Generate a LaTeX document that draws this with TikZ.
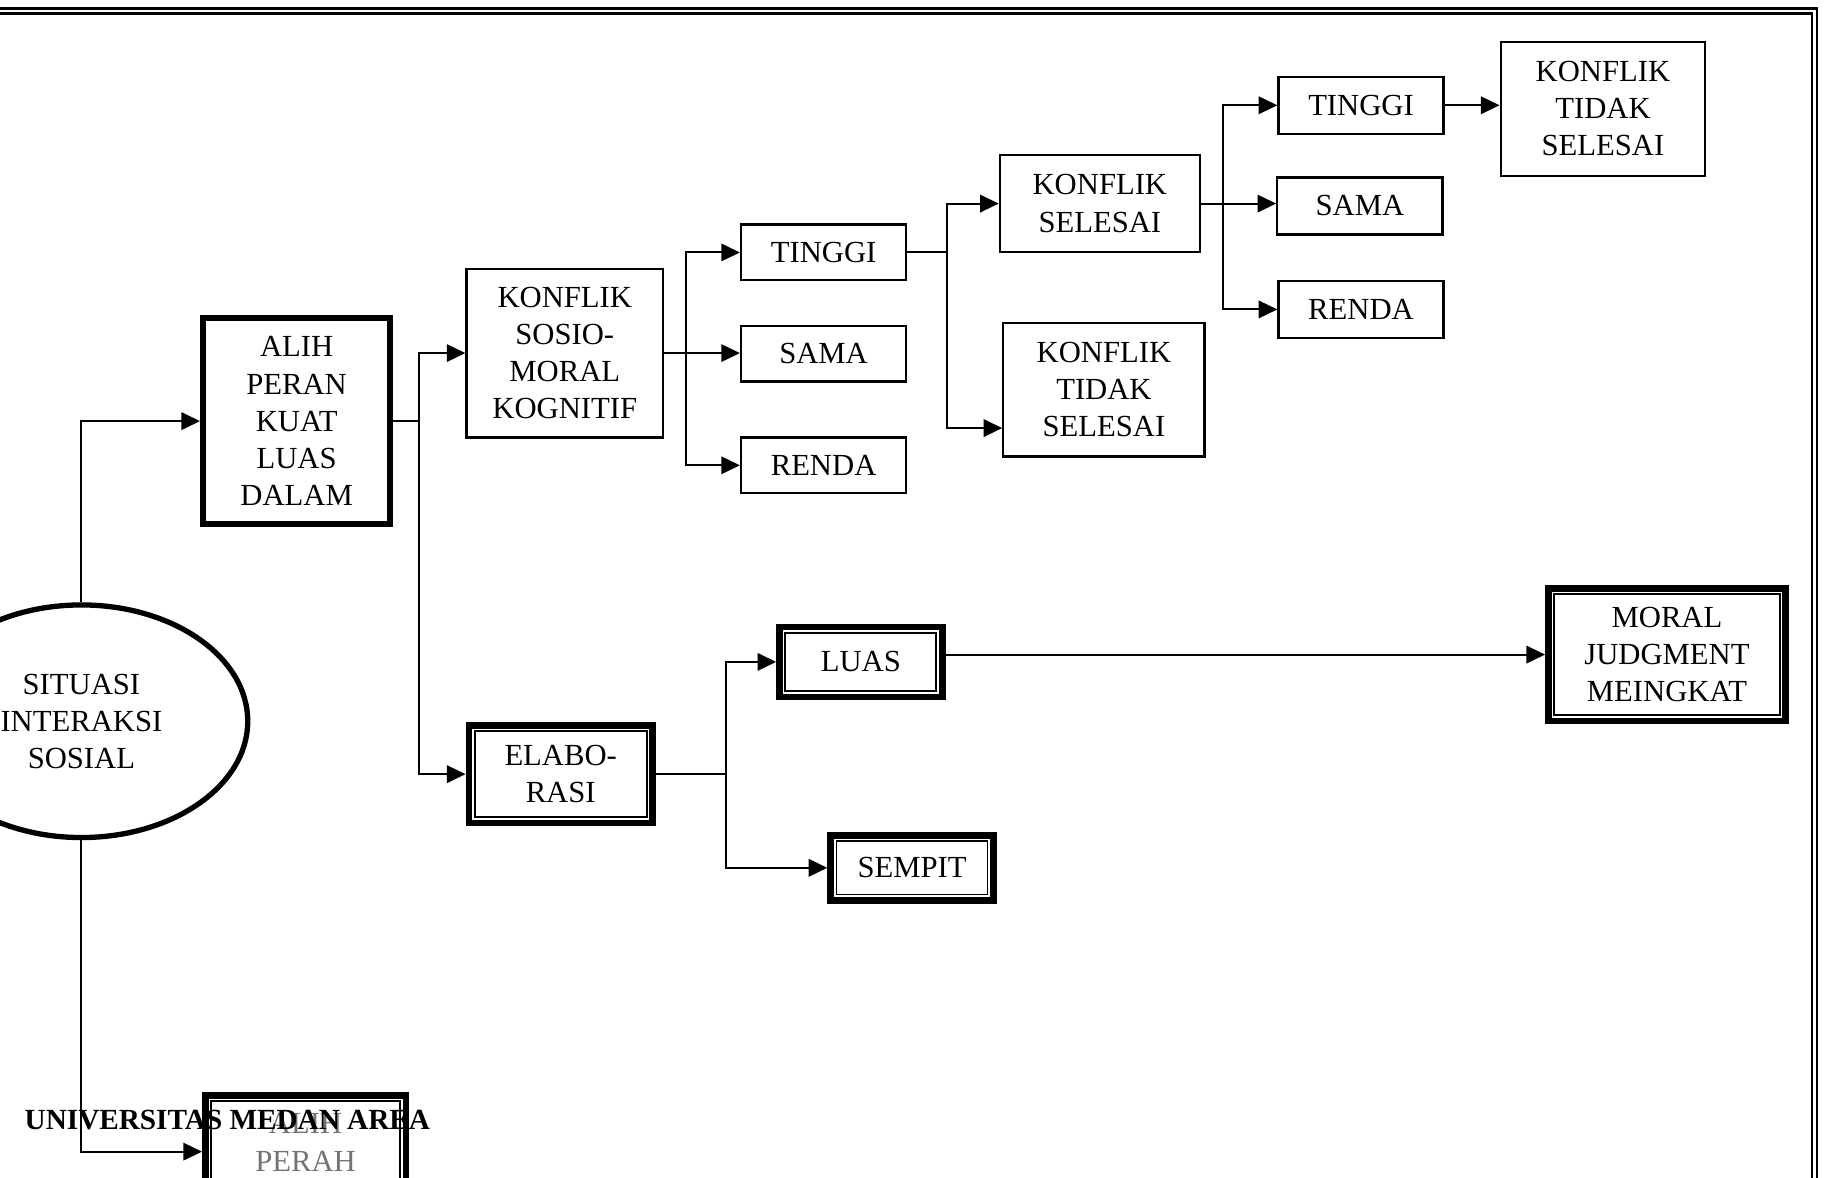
\documentclass[tikz,border=0pt]{standalone}
\usepackage{fontspec}
\setmainfont{Liberation Serif}
\usetikzlibrary{arrows.meta,calc,shapes.geometric}

\tikzset{
  box/.style={draw, line width=1.1pt, align=center, inner sep=2pt},
  boldbox/.style={draw, line width=2.9pt, align=center, inner sep=2pt},
  dblbox/.style={draw, line width=3.2pt, align=center, inner sep=2pt,
    path picture={\draw[line width=0.9pt]
      ([shift={(2.9pt,-2.9pt)}]path picture bounding box.north west) rectangle
      ([shift={(-2.9pt,2.9pt)}]path picture bounding box.south east);}},
  link/.style={line width=1pt},
  arr/.style={line width=1pt, -{Triangle[length=0.32cm,width=0.3cm]}}
}

\begin{document}
\begin{tikzpicture}[x=0.02cm, y=-0.02cm, font=\fontsize{15}{18.2}\selectfont]
  \useasboundingbox (0,0) rectangle (1568,1012);
  \clip (0,0) rectangle (1568,1012);

  % page frame
  \draw[line width=1.4pt] (-10,7.5) -- (1562,7.5) -- (1562,1030);
  \draw[line width=1.1pt] (-10,11.5) -- (1557.5,11.5) -- (1557.5,1030);

  \node[draw, ellipse, line width=2.6pt, minimum width=5.72cm, minimum height=4cm, align=center] (sit) at (70,620) {SITUASI\\INTERAKSI\\SOSIAL};
  \node[boldbox, minimum width=3.22cm, minimum height=3.54cm] (alih) at (255,362) {ALIH\\PERAN\\KUAT\\LUAS\\DALAM};

  % upper branch
  \node[box, minimum width=3.38cm, minimum height=2.9cm] (sosio) at (485.5,303.5) {KONFLIK\\SOSIO-\\MORAL\\KOGNITIF};
  \node[box, minimum width=2.84cm, minimum height=0.96cm] (tinggiA) at (708,217) {TINGGI};
  \node[box, minimum width=2.84cm, minimum height=0.96cm] (samaA) at (708,304) {SAMA};
  \node[box, minimum width=2.84cm, minimum height=0.96cm] (rendaA) at (708,400) {RENDA};
  \node[box, minimum width=3.44cm, minimum height=1.66cm] (selesai) at (945.5,175) {KONFLIK\\SELESAI};
  \node[box, minimum width=3.46cm, minimum height=2.3cm] (tidakA) at (949,335) {KONFLIK\\TIDAK\\SELESAI};
  \node[box, minimum width=2.84cm, minimum height=0.98cm] (tinggiB) at (1170,90.5) {TINGGI};
  \node[box, minimum width=2.84cm, minimum height=0.98cm] (samaB) at (1169,177) {SAMA};
  \node[box, minimum width=2.84cm, minimum height=0.98cm] (rendaB) at (1170,266) {RENDA};
  \node[box, minimum width=3.52cm, minimum height=2.3cm] (tidakB) at (1378,93.5) {KONFLIK\\TIDAK\\SELESAI};

  % lower branch
  \node[dblbox, minimum width=3.16cm, minimum height=1.68cm] (elabo) at (482,665.5) {ELABO-\\RASI};
  \node[dblbox, minimum width=2.8cm, minimum height=1.2cm] (luas) at (740,569) {LUAS};
  \node[dblbox, minimum width=2.8cm, minimum height=1.12cm] (sempit) at (784,746) {SEMPIT};
  \node[dblbox, minimum width=4.08cm, minimum height=2.28cm] (moral) at (1433,562.7) {MORAL\\JUDGMENT\\MEINGKAT};
  \node[dblbox, minimum width=3.45cm, minimum height=1.62cm, text=black!55] (alihB) at (262.7,982) {ALIH\\PERAH};

  \coordinate (s1) at ([xshift=0.45cm]alih.east);
  \coordinate (s2) at ([xshift=0.38cm]sosio.east);
  \coordinate (s3) at ([xshift=0.68cm]tinggiA.east);
  \coordinate (s4) at ([xshift=0.38cm]selesai.east);
  \coordinate (s5) at ([xshift=1.2cm]elabo.east);

  \draw[arr] (sit.north) |- (alih.west);
  \draw[arr] (sit.south) |- ([yshift=-0.16cm]alihB.west);

  \draw[link] (alih.east) -- (s1);
  \draw[arr] (s1) |- (sosio.west);
  \draw[arr] (s1) |- (elabo.west);

  \draw[arr] (sosio.east) -- (sosio.east -| samaA.west);
  \draw[arr] (s2) |- (tinggiA.west);
  \draw[arr] (s2) |- (rendaA.west);

  \draw[link] (tinggiA.east) -- (s3);
  \draw[arr] (s3) |- (selesai.west);
  \draw[arr] (s3) |- ([yshift=-0.66cm]tidakA.west);

  \draw[arr] (selesai.east) -- (selesai.east -| samaB.west);
  \draw[arr] (s4) |- (tinggiB.west);
  \draw[arr] (s4) |- (rendaB.west);
  \draw[arr] (tinggiB.east) -- (tinggiB.east -| tidakB.west);

  \draw[link] (elabo.east) -- (s5);
  \draw[arr] (s5) |- (luas.west);
  \draw[arr] (s5) |- (sempit.west);
  \draw[arr] (luas.east |- moral.west) -- (moral.west);

  \node[font=\fontsize{14.3}{17}\selectfont\bfseries] (stamp) at (195.5,963) {UNIVERSITAS MEDAN AREA};
\end{tikzpicture}
\end{document}
